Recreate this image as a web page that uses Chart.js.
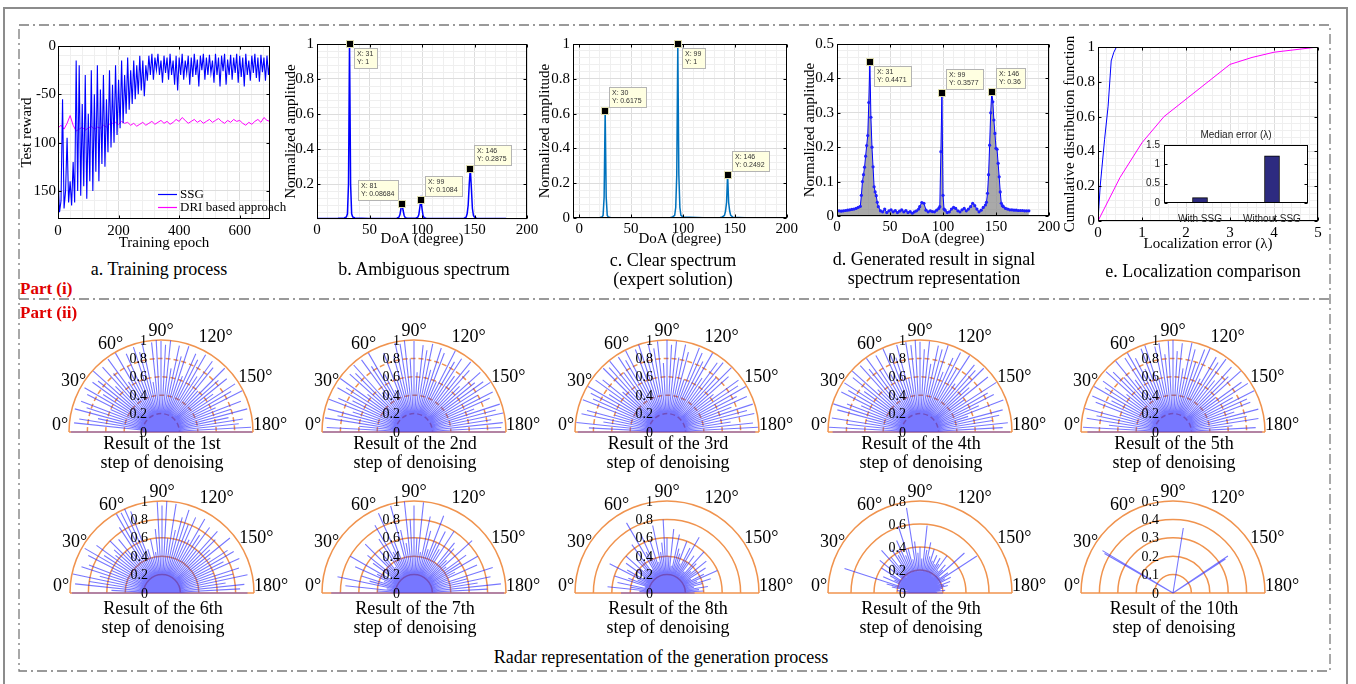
<!DOCTYPE html>
<html><head><meta charset="utf-8">
<script src="https://cdn.jsdelivr.net/npm/chart.js@4.4.1/dist/chart.umd.min.js"></script>
<style>
body{margin:0;background:#fff;}
#wrap{position:relative;width:1356px;height:684px;overflow:hidden;background:#fff;font-family:"Liberation Serif","Times New Roman",serif;}
canvas{position:absolute;}
.cap{position:absolute;font-size:18px;line-height:19px;text-align:center;white-space:nowrap;color:#000;transform:translate(-50%,-50%);z-index:5;}
.part{position:absolute;color:#e00000;font-weight:bold;font-size:17px;line-height:18px;left:20px;z-index:5;}
.ins{position:absolute;font-family:"Liberation Sans",Arial,sans-serif;font-size:10px;color:#222;transform:translate(-50%,-50%);white-space:nowrap;z-index:5;}
</style></head>
<body><div id="wrap">
<svg width="1356" height="684" style="position:absolute;left:0;top:0">
 <path d="M4 684 V8 H1347 V684" fill="none" stroke="#8c8c8c" stroke-width="2"/>
 <rect x="19" y="25" width="1311" height="646" fill="none" stroke="#7a7a7a" stroke-width="1.3" stroke-dasharray="10,4,2,4"/>
 <line x1="19" y1="299" x2="1330" y2="299" stroke="#7a7a7a" stroke-width="1.3" stroke-dasharray="10,4,2,4"/>
</svg>
<div class="cap" style="left:159px;top:269px">a. Training process</div>
<div class="cap" style="left:424px;top:269px">b. Ambiguous spectrum</div>
<div class="cap" style="left:673px;top:270px">c. Clear spectrum<br>(expert solution)</div>
<div class="cap" style="left:934px;top:269px">d. Generated result in signal<br>spectrum representation</div>
<div class="cap" style="left:1203px;top:271px">e. Localization comparison</div>
<div class="part" style="top:280px">Part (i)</div>
<div class="part" style="top:304px">Part (ii)</div>
<div class="ins" style="left:1236px;top:134px">Median error (λ)</div>
<div class="cap" style="left:661px;top:657px">Radar representation of the generation process</div>
</div>
<script>
// ---------------- DATA ----------------
// a. Training process
const aEpochSSG = [0,5,10,15,20,25,30,35,40,45,50,55,60,65,70,75,80,85,90,95,100,105,110,115,120,125,130,135,140,145,150,155,160,165,170,175,180,185,190,195,200,205,210,215,220,225,230,235,240,245,250,255,260,265,270,275,280,285,290,295,300,305,310,315,320,325,330,335,340,345,350,355,360,365,370,375,380,385,390,395,400,405,410,415,420,425,430,435,440,445,450,455,460,465,470,475,480,485,490,495,500,505,510,515,520,525,530,535,540,545,550,555,560,565,570,575,580,585,590,595,600,605,610,615,620,625,630,635,640,645,650,655,660,665,670,675,680,685,690,695,700];
const aSSG = [-135,-172,-160,-55,-168,-150,-95,-162,-140,-165,
 -120,-162,-15,-150,-20,-155,-60,-145,-30,-158,
 -70,-140,-25,-150,-50,-130,-20,-140,-45,-122,
 -30,-125,-55,-110,-25,-105,-40,-100,-20,-92,
 -35,-85,-15,-80,-30,-70,-12,-66,-25,-60,
 -15,-55,-20,-50,-10,-46,-15,-52,-20,-36,
 -10,-30,-8,-35,-12,-25,-8,-30,-15,-38,
 -10,-28,-12,-35,-8,-30,-15,-40,-10,-46,
 -12,-30,-8,-35,-15,-28,-10,-40,-12,-32,
 -8,-30,-14,-42,-10,-25,-8,-35,-12,-30,
 -9,-28,-15,-38,-8,-30,-12,-42,-10,-26,
 -8,-40,-14,-30,-9,-35,-12,-28,-8,-38,
 -10,-32,-12,-42,-8,-30,-15,-36,-10,-28,
 -8,-33,-12,-37,-9,-27,-12,-36,-10,-30,
 -14];
const aEpochDRI = [0,10,20,30,40,50,60,70,80,90,100,110,120,130,140,150,160,170,180,190,200,210,220,230,240,250,260,270,280,290,300,310,320,330,340,350,360,370,380,390,400,410,420,430,440,450,460,470,480,490,500,510,520,530,540,550,560,570,580,590,600,610,620,630,640,650,660,670,680,690,700];
const aDRI = [-85,-82,-86,-80,-72,-82,-88,-86,-84,-87,
 -85,-83,-86,-84,-85,-82,-84,-81,-80,-79,
 -81,-78,-80,-79,-82,-80,-83,-81,-79,-82,
 -80,-78,-81,-79,-77,-80,-78,-81,-79,-76,
 -78,-74,-77,-80,-78,-76,-79,-77,-80,-78,
 -76,-79,-77,-75,-78,-80,-77,-79,-76,-78,
 -77,-80,-82,-79,-81,-78,-76,-79,-74,-77,
 -78];
const aSeriesNames = ['SSG','DRI based approach'];
const aXTicks = [0,200,400,600], aXTickLabels = ['0','200','400','600'];
const aYTicks = [-150,-100,-50,0], aYTickLabels = ['150','100','-50','0'];

// b. Ambiguous spectrum
const bX = [0,10,20,26,28,29,30,31,32,33,34,36,50,70,76,78,79,80,81,82,83,84,86,94,96,97,98,99,100,101,102,104,120,140,142,143,144,145,146,147,148,149,150,152,160,180];
const bY = [0.003,0.003,0.004,0.006,0.012,0.03,0.2,1,0.2,0.03,0.012,0.006,0.003,0.003,0.005,0.01,0.025,0.06,0.08684,0.05,0.02,0.008,0.004,0.005,0.01,0.025,0.07,0.1084,0.06,0.02,0.008,0.004,0.003,0.005,0.01,0.03,0.08,0.2,0.2875,0.18,0.06,0.02,0.01,0.005,0.003,0.003];
const bTipX = [31,81,99,146], bTipY = [1,0.08684,0.1084,0.2875];
const bXTicks = [0,50,100,150,200], bXTickLabels = ['0','50','100','150','200'];
const bYTicks = [0.2,0.4,0.6,0.8,1], bYTickLabels = ['0.2','0.4','0.6','0.8','1'];

// c. Clear spectrum
const cX = [-6,10,20,22,23,24,25,26,27,28,30,50,70,88,90,92,93,94,95,96,97,98,100,120,136,138,140,141,142,143,144,145,146,148,160,173];
const cY = [0.002,0.002,0.003,0.006,0.015,0.12,0.6175,0.12,0.015,0.006,0.003,0.002,0.002,0.003,0.006,0.015,0.06,0.25,1,0.25,0.06,0.015,0.006,0.002,0.003,0.006,0.015,0.04,0.09,0.2492,0.09,0.04,0.015,0.005,0.002,0.002];
const cTipX = [30,99,146], cTipY = [0.6175,1,0.2492];
const cXTicks = [0,50,100,150,200], cXTickLabels = ['0','50','100','150','200'];
const cYTicks = [0,0.2,0.4,0.6,0.8,1], cYTickLabels = ['0','0.2','0.4','0.6','0.8','1'];

// d. Generated result
const dX = [0,2,4,6,8,10,12,14,16,18, 20,22,23,24,25,26,27,28,29,30, 31,32,33,34,35,36,37,38,39,41, 43,45,47,49,51,53,55,57,59,61, 63,65,67,69,71,73,75,77,78,80, 82,84,86,88,90,92,94,96,97,98, 99,100,101,102,104,106,108,110,112,114, 116,118,120,122,124,126,128,130,132,134, 136,138,140,141,142,143,144,145,146,147, 148,149,150,151,152,153,154,155,156,157, 159,161,163,165,167,169,171,173,175,177, 179,181];
const dY = [0.015,0.015,0.014,0.015,0.016,0.017,0.018,0.019,0.02,0.022,
 0.025,0.028,0.06,0.1,0.12,0.142,0.174,0.205,0.234,0.33,
 0.4471,0.287,0.2,0.143,0.085,0.07,0.059,0.04,0.027,0.015,
 0.012,0.02,0.01,0.015,0.018,0.012,0.016,0.01,0.014,0.018,
 0.012,0.016,0.01,0.013,0.008,0.012,0.015,0.02,0.027,0.039,
 0.037,0.017,0.012,0.015,0.013,0.012,0.017,0.022,0.027,0.187,
 0.3577,0.06,0.02,0.017,0.01,0.012,0.02,0.025,0.022,0.015,
 0.012,0.018,0.022,0.015,0.02,0.027,0.037,0.03,0.02,0.012,
 0.017,0.025,0.032,0.04,0.066,0.12,0.206,0.3,0.36,0.332,
 0.279,0.24,0.197,0.194,0.153,0.114,0.07,0.037,0.03,0.027,
 0.022,0.02,0.018,0.018,0.017,0.017,0.016,0.016,0.016,0.015,
 0.015,0.015];
const dTipX = [31,99,146], dTipY = [0.4471,0.3577,0.36];
const dXTicks = [0,50,100,150,200], dXTickLabels = ['0','50','100','150','200'];
const dYTicks = [0,0.1,0.2,0.3,0.4,0.5], dYTickLabels = ['0','0.1','0.2','0.3','0.4','0.5'];

// e. Localization comparison
const eSSGX = [0,0.05,0.15,0.23,0.3,0.36,0.42,5];
const eSSGY = [0,0.2,0.47,0.66,0.92,0.97,1,1];
const eNoX = [0,0.5,1,1.5,2,3,3.5,4,5];
const eNoY = [0,0.25,0.45,0.6,0.7,0.9,0.94,0.97,1];
const eXTicks = [0,1,2,3,4,5], eXTickLabels = ['0','1','2','3','4','5'];
const eYTicks = [0,0.2,0.4,0.6,0.8,1], eYTickLabels = ['0','0.2','0.4','0.6','0.8','1'];
const medianCats = ['With SSG','Without SSG'];
const medianVals = [0.14,1.22];
const medYTicks = [0,0.5,1,1.5], medYTickLabels = ['0','0.5','1','1.5'];

// Part (ii) radar data: ray angle (deg) and normalized length
const polarAngles = [0,3,6,9,12,15,18,21,24,27,30,33,36,39,42,45,48,51,54,57,60,63,66,69,72,75,78,81,84,87,90,93,96,99,102,105,108,111,114,117,120,123,126,129,132,135,138,141,144,147,150,153,156,159,162,165,168,171,174,177,180];
const rays1 = [0.98,0.2,0.95,0.9,0.7,0.97,0.85,0.93,0.6,0.9,
 0.96,0.75,0.92,0.88,0.99,0.7,0.95,0.82,0.98,0.65,
 0.99,0.8,0.93,0.6,0.97,0.9,0.99,0.55,0.98,1.0,
 0.99,0.95,1.0,0.7,0.96,0.85,0.98,0.65,0.93,0.88,
 0.97,0.72,0.95,0.9,0.6,0.98,0.84,0.92,0.7,0.96,
 0.88,0.99,0.65,0.93,0.8,0.97,0.75,0.9,0.85,0.98,
 0.99];
const rays2 = [0.99,0.95,0.6,0.98,0.85,0.97,0.7,0.99,0.9,0.75,
 0.96,0.88,0.99,0.65,0.94,0.9,0.98,0.55,0.97,0.85,
 0.99,0.7,0.5,0.92,0.6,0.85,0.99,0.97,1.0,0.8,
 0.99,0.65,0.95,0.9,0.98,0.7,0.96,0.92,0.6,0.99,
 0.88,0.95,0.75,0.98,0.9,0.7,0.97,0.85,0.93,0.99,
 0.8,0.96,0.9,0.7,0.98,0.92,0.99,0.85,0.97,0.95,
 0.99];
const rays3 = [0.97,0.85,0.99,0.7,0.95,0.9,0.6,0.98,0.88,0.93,
 0.99,0.75,0.96,0.9,0.65,0.98,0.94,0.99,0.8,0.97,
 0.9,0.99,0.7,0.96,1.0,0.85,0.98,0.92,0.99,0.75,
 1.0,0.95,0.99,0.82,0.97,0.9,0.6,0.98,0.94,0.86,
 0.99,0.7,0.93,0.97,0.8,0.99,0.9,0.65,0.96,0.92,
 0.99,0.85,0.95,0.75,0.98,0.9,0.97,0.7,0.94,0.99,
 0.96];
const rays4 = [0.95,0.99,0.8,0.97,0.6,0.93,0.99,0.85,0.7,0.96,
 0.9,0.98,0.75,0.94,0.99,0.65,0.97,0.88,0.99,0.8,
 0.96,0.7,0.99,0.92,0.85,0.98,0.6,0.99,0.95,1.0,
 0.98,0.9,0.99,0.75,0.96,0.93,0.99,0.7,0.88,0.97,
 0.8,0.99,0.65,0.94,0.9,0.98,0.72,0.95,0.6,0.99,
 0.85,0.9,0.7,0.97,0.55,0.93,0.88,0.8,0.96,0.9,
 0.98];
const rays5 = [0.93,0.98,0.7,0.95,0.85,0.99,0.6,0.9,0.96,0.75,
 0.99,0.88,0.94,0.65,0.98,0.92,0.8,0.99,0.7,0.96,
 0.99,0.9,0.75,0.97,0.99,0.6,0.95,0.98,0.85,0.99,
 1.0,0.88,0.97,0.7,0.99,0.93,0.8,0.96,0.99,0.65,
 0.94,0.9,0.98,0.72,0.95,0.85,0.99,0.6,0.92,0.97,
 0.75,0.99,0.88,0.9,0.7,0.96,0.82,0.94,0.65,0.9,
 0.97];
const rays6 = [0.98,0.55,0.95,0.8,0.99,0.7,0.92,0.85,0.6,0.9,
 0.97,0.75,0.88,0.65,0.7,0.8,0.6,0.75,0.55,0.85,
 0.99,0.98,1.0,0.95,0.5,0.4,0.6,0.45,0.7,0.99,
 0.95,1.0,0.6,0.98,0.7,0.85,0.95,0.8,0.9,0.65,
 0.93,0.75,0.88,0.6,0.9,0.82,0.7,0.95,0.65,0.85,
 0.9,0.75,0.92,0.6,0.88,0.8,0.95,0.7,0.9,0.85,
 0.93];
const rays7 = [0.9,0.4,0.75,0.3,0.85,0.5,0.6,0.35,0.7,0.45,
 0.8,0.3,0.55,0.65,0.4,0.75,0.5,0.6,0.35,0.7,
 0.85,0.5,0.95,0.6,0.4,0.98,0.7,0.55,1.0,0.8,
 0.95,0.6,0.99,0.45,0.85,0.7,0.5,0.9,0.6,0.75,
 0.55,0.8,0.4,0.7,0.65,0.5,0.85,0.45,0.7,0.6,
 0.8,0.5,0.75,0.4,0.9,0.6,0.85,0.7,0.95,0.8,
 0.98];
const rays8 = [0.5,0.3,0.65,0.4,0.55,0.25,0.6,0.45,0.35,0.7,
 0.5,0.3,0.55,0.4,0.6,0.35,0.5,0.45,0.65,0.3,
 0.88,0.5,0.7,0.4,0.6,0.35,0.75,0.45,0.55,0.8,
 0.6,0.4,0.7,0.3,0.65,0.5,0.45,0.6,0.35,0.55,
 0.7,0.4,0.5,0.3,0.6,0.45,0.35,0.55,0.4,0.5,
 0.3,0.45,0.6,0.35,0.5,0.4,0.3,0.45,0.35,0.4,
 0.3];
const rays9 = [0.15,0.1,0.2,0.12,0.25,0.3,0.69,0.2,0.35,0.25,
 0.3,0.4,0.2,0.45,0.3,0.35,0.5,0.4,0.3,0.45,
 0.38,0.42,0.5,0.35,0.61,0.4,0.3,0.75,0.45,0.35,
 0.4,0.3,0.59,0.38,0.45,0.33,0.4,0.3,0.36,0.28,
 0.35,0.3,0.4,0.25,0.33,0.28,0.52,0.22,0.3,0.59,
 0.25,0.3,0.2,0.28,0.22,0.25,0.2,0.18,0.22,0.15,
 0.2];
const rays10Angles = [30,31,99,146,147];
const rays10Radii = [0.43,0.4471,0.3577,0.36,0.34];
const polarAngleTicks = [0,30,60,90,120,150,180];
const polarTicks1 = [0,0.2,0.4,0.6,0.8,1];
const polarTicks9 = [0,0.2,0.4,0.6,0.8];
const polarTicks10 = [0,0.1,0.2,0.3,0.4,0.5];
const stepNames = ['1st','2nd','3rd','4th','5th','6th','7th','8th','9th','10th'];

// ---------------- RENDER ----------------
const SERIF = '"Liberation Serif","Times New Roman",serif';
const SANS = '"Liberation Sans",Arial,sans-serif';
Chart.defaults.animation = false;
Chart.defaults.font.family = SERIF;
Chart.defaults.color = '#000';
Chart.defaults.plugins.legend.display = false;
Chart.defaults.plugins.tooltip.enabled = false;
const wrap = document.getElementById('wrap');

function mkCanvas(x,y,w,h){
  const c=document.createElement('canvas'); c.width=w; c.height=h;
  c.style.left=x+'px'; c.style.top=y+'px'; wrap.appendChild(c); return c;
}
function pts(xs,ys){ return xs.map((x,i)=>({x, y:ys[i]})); }

function linAxis(o){
  const idx = v => o.ticks.findIndex(t => Math.abs(t-v) < 1e-9);
  return {
    type:'linear', position:o.pos, min:o.min, max:o.max, bounds:'data',
    afterBuildTicks(s){
      const vals = new Set(o.ticks.map(v=>+v.toFixed(6)));
      if (o.minor){
        const start = Math.ceil(o.min/o.minor - 1e-9)*o.minor;
        for(let k=0;;k++){ const v=+(start+k*o.minor).toFixed(6); if(v>o.max+1e-9) break; vals.add(v===0?0:v); }
      }
      s.ticks = [...vals].filter(v=>v>=o.min-1e-9 && v<=o.max+1e-9).sort((a,b)=>a-b).map(v=>({value:v}));
      s.$maj = o.ticks.slice();
    },
    afterFit(s){ if(o.pos==='left') s.width=o.fit; else s.height=o.fit; },
    ticks:{autoSkip:false, maxRotation:0, minRotation:0, padding:o.pad, color:o.color||'#000',
      font:o.font||{size:15}, callback:(v)=>{ const i=idx(v); return i>=0 ? o.labels[i] : ''; }},
    grid:{display:o.grid!==false, drawTicks:false, lineWidth:1,
      color:c => (c.tick && idx(c.tick.value)>=0) ? '#dddddd' : '#efefef'},
    border:{display:false},
    title:{display:!!o.title, text:o.title, color:'#000', font:{size:15}, padding:o.titlePad||0}
  };
}

const boxPlugin = {id:'box', afterDatasetsDraw(ch){
  const {ctx, chartArea:a} = ch;
  const L=Math.round(a.left)+0.5, T=Math.round(a.top)+0.5, R=Math.round(a.right)-0.5, B=Math.round(a.bottom)-0.5;
  ctx.save(); ctx.strokeStyle='#000'; ctx.lineWidth=1;
  ctx.strokeRect(L,T,R-L,B-T);
  ctx.beginPath();
  const xs=ch.scales.x, ys=ch.scales.y, tl=3;
  (xs.$maj||[]).forEach(v=>{ const p=Math.round(xs.getPixelForValue(v))+0.5; ctx.moveTo(p,B); ctx.lineTo(p,B-tl); ctx.moveTo(p,T); ctx.lineTo(p,T+tl); });
  (ys.$maj||[]).forEach(v=>{ const p=Math.round(ys.getPixelForValue(v))+0.5; ctx.moveTo(L,p); ctx.lineTo(L+tl,p); ctx.moveTo(R,p); ctx.lineTo(R-tl,p); });
  ctx.stroke(); ctx.restore();
}};

const tipPlugin = {id:'tips', afterDatasetsDraw(ch,args,o){
  const ctx=ch.ctx, xs=ch.scales.x, ys=ch.scales.y, data=ch.data.datasets[0].data;
  ctx.save();
  o.xs.forEach((tx,i)=>{
    let best=null; data.forEach(p=>{ if(Math.abs(p.x-tx)<=6 && (!best || p.y>best.y)) best=p; });
    const mx=Math.round(xs.getPixelForValue(best.x)), my=Math.round(ys.getPixelForValue(best.y));
    const l1='X: '+tx, l2='Y: '+o.ys[i];
    ctx.font='7px '+SANS;
    const w=Math.round(Math.max(ctx.measureText(l1).width, ctx.measureText(l2).width)+7), h=20;
    const d=o.dirs[i];
    const bx = d==='ul' ? mx-4-w : mx+4;
    const by = d==='dr' ? my+4 : my-4-h;
    ctx.fillStyle='#ffffe1'; ctx.fillRect(bx,by,w,h);
    ctx.strokeStyle='#b4b4b4'; ctx.lineWidth=1; ctx.strokeRect(bx+0.5,by+0.5,w,h);
    ctx.fillStyle='#333'; ctx.textBaseline='top'; ctx.textAlign='left';
    ctx.fillText(l1,bx+3,by+2.5); ctx.fillText(l2,bx+3,by+11);
    ctx.fillStyle='#000'; ctx.fillRect(mx-3,my-3,6,6);
    ctx.strokeStyle='#deddb0'; ctx.strokeRect(mx-3.5,my-3.5,7,7);
  });
  ctx.restore();
}};

const legendA = {id:'legA', afterDatasetsDraw(ch){
  const {ctx, chartArea:a} = ch;
  ctx.save(); ctx.font='13px '+SERIF; ctx.textBaseline='middle'; ctx.textAlign='left';
  ch.data.datasets.forEach((d,i)=>{
    const y = a.bottom - 25 + i*13;
    ctx.strokeStyle=d.borderColor; ctx.lineWidth=1.2;
    ctx.beginPath(); ctx.moveTo(a.right-112,y+0.5); ctx.lineTo(a.right-93,y+0.5); ctx.stroke();
    ctx.fillStyle='#000'; ctx.fillText(d.label, a.right-90, y+1);
  });
  ctx.restore();
}};

function topChart(rect, datasets, xAx, yAx, plugins, extra){
  const [x0,y0,x1,y1,pt,pr] = rect;
  const c = mkCanvas(x0,y0,x1-x0,y1-y0);
  return new Chart(c,{type:'line', data:{datasets},
    options:{responsive:false, layout:{padding:{left:0,top:pt,right:pr,bottom:0}},
      scales:{x:xAx, y:yAx}, elements:{line:{tension:0}}, plugins:extra||{}},
    plugins});
}

// a
topChart([14,34,290,256,12,20], [
  {label:aSeriesNames[0], data:pts(aEpochSSG,aSSG), borderColor:'#0000ff', borderWidth:1.1, pointRadius:0},
  {label:aSeriesNames[1], data:pts(aEpochDRI,aDRI), borderColor:'#ff00ff', borderWidth:1, pointRadius:0}
], linAxis({pos:'bottom',min:0,max:700,ticks:aXTicks,labels:aXTickLabels,minor:40,fit:37,pad:3,title:'Training epoch',titlePad:{bottom:4}}),
   linAxis({pos:'left',min:-179,max:0,ticks:aYTicks,labels:aYTickLabels,minor:10,fit:44,pad:2,title:'Test reward',titlePad:{top:4}}),
   [boxPlugin, legendA]);

// b
topChart([280,32,545,256,12,18], [
  {data:pts(bX,bY), borderColor:'#0000ff', borderWidth:1.5, pointRadius:0}
], linAxis({pos:'bottom',min:0,max:200,ticks:bXTicks,labels:bXTickLabels,minor:10,fit:37,pad:2,title:'DoA (degree)',titlePad:{bottom:8}}),
   linAxis({pos:'left',min:0,max:1,ticks:bYTicks,labels:bYTickLabels,minor:0.04,fit:37,pad:3,title:'Normalized amplitude',titlePad:{top:2}}),
   [boxPlugin, tipPlugin], {tips:{xs:bTipX, ys:bTipY, dirs:['dr','ul','ur','ur']}});

// c
topChart([534,32,800,256,12,13], [
  {data:pts(cX,cY), borderColor:'#0072BD', borderWidth:1.5, pointRadius:0}
], linAxis({pos:'bottom',min:-6,max:200,ticks:cXTicks,labels:cXTickLabels,minor:10,fit:38,pad:2,title:'DoA (degree)',titlePad:{bottom:8}}),
   linAxis({pos:'left',min:0,max:1,ticks:cYTicks,labels:cYTickLabels,minor:0.04,fit:39,pad:3,title:'Normalized amplitude',titlePad:{top:2}}),
   [boxPlugin, tipPlugin], {tips:{xs:cTipX, ys:cTipY, dirs:['ur','dr','ur']}});

// d
topChart([799,32,1065,256,12,16], [
  {data:pts(dX,dY), borderColor:'#0000ff', borderWidth:1, pointRadius:1.6, pointBackgroundColor:'#2020ff', pointBorderWidth:0,
   fill:'origin', backgroundColor:'rgba(140,140,140,0.75)'}
], linAxis({pos:'bottom',min:0,max:200,ticks:dXTicks,labels:dXTickLabels,minor:10,fit:40,pad:2,title:'DoA (degree)',titlePad:{bottom:8}}),
   linAxis({pos:'left',min:0,max:0.5,ticks:dYTicks,labels:dYTickLabels,minor:0.02,fit:38,pad:3,title:'Normalized amplitude',titlePad:{top:2}}),
   [boxPlugin, tipPlugin], {tips:{xs:dTipX, ys:dTipY, dirs:['dr','ur','ur']}});

// e
topChart([1059,35,1334,256,12,16], [
  {data:pts(eSSGX,eSSGY), borderColor:'#0000ff', borderWidth:1, pointRadius:0},
  {data:pts(eNoX,eNoY), borderColor:'#ff00ff', borderWidth:1, pointRadius:0}
], linAxis({pos:'bottom',min:0,max:5,ticks:eXTicks,labels:eXTickLabels,minor:0.2,fit:35,pad:3,title:'Localization error (λ)',titlePad:{bottom:3}}),
   linAxis({pos:'left',min:0,max:1,ticks:eYTicks,labels:eYTickLabels,minor:0.04,fit:39,pad:3,title:'Cumulative distribution function',titlePad:{top:2}}),
   [boxPlugin]);

// e inset (median error bars)
(function(){
  const c = mkCanvas(1136,135,180,87);
  const whiteBg = {id:'wbg', beforeDatasetsDraw(ch){ const a=ch.chartArea; ch.ctx.save(); ch.ctx.fillStyle='#fff'; ch.ctx.fillRect(a.left,a.top,a.right-a.left,a.bottom-a.top); ch.ctx.restore(); }};
  const yAx = linAxis({pos:'left',min:0,max:1.5,ticks:medYTicks,labels:medYTickLabels,fit:28,pad:4,grid:false,color:'#222',font:{family:SANS,size:10}});
  new Chart(c,{type:'bar', data:{labels:medianCats, datasets:[{data:medianVals, backgroundColor:'#2d2b80', borderColor:'#000', borderWidth:1, barThickness:15}]},
    options:{responsive:false, layout:{padding:{left:0,top:8,right:8,bottom:0}},
      scales:{x:{type:'category', grid:{display:false}, border:{display:false}, afterFit(s){s.height=19;},
        ticks:{color:'#222', padding:2, font:{family:SANS,size:10}, maxRotation:0, autoSkip:false}}, y:yAx}},
    plugins:[whiteBg, boxPlugin]});
})();

// Part (ii) radar plots
const polarPlugin = {
  id:'polar',
  beforeDatasetsDraw(ch,args,o){
    const ctx=ch.ctx, xs=ch.scales.x, ys=ch.scales.y;
    const cx=xs.getPixelForValue(0), cy=ys.getPixelForValue(0);
    const rp=v=>xs.getPixelForValue(v)-cx, R=rp(o.maxV);
    ctx.save();
    ctx.strokeStyle='#f0934e'; ctx.lineWidth=1.5;
    o.rings.forEach(v=>{ ctx.setLineDash(o.dashed && v<o.maxV-1e-9 ? [5,3] : []); ctx.beginPath(); ctx.arc(cx,cy,rp(v),Math.PI,2*Math.PI); ctx.stroke(); });
    ctx.setLineDash([]);
    ctx.beginPath(); ctx.moveTo(cx-R,cy); ctx.lineTo(cx+R,cy); ctx.stroke();
    ctx.fillStyle='#000'; ctx.font='18px '+SERIF; ctx.textAlign='center'; ctx.textBaseline='middle';
    o.angLabels.forEach(a=>{ const t=a*Math.PI/180, rl=R+(a>90?17:9);
      ctx.fillText(a+'°', cx-rl*Math.cos(t), cy-rl*Math.sin(t)-((a===0||a===180)?7:0)); });
    ctx.restore();
  },
  afterDatasetsDraw(ch,args,o){
    const ctx=ch.ctx, xs=ch.scales.x, ys=ch.scales.y;
    const cx=xs.getPixelForValue(0), cy=ys.getPixelForValue(0);
    ctx.save(); ctx.fillStyle='#000'; ctx.font='14px '+SERIF; ctx.textAlign='right'; ctx.textBaseline='middle';
    o.ticks.forEach(v=>{ ctx.fillText(String(v), cx-14, cy-(xs.getPixelForValue(v)-cx)+1); });
    ctx.restore();
  }
};
function polar(cx, base, angles, radii, maxV, rings, ticks, dashed, name, capOff){
  const c = mkCanvas(cx-130, base-120, 260, 130);
  const data=[];
  angles.forEach((a,i)=>{ const t=a*Math.PI/180; data.push({x:0,y:0},{x:-radii[i]*Math.cos(t), y:radii[i]*Math.sin(t)},{x:NaN,y:NaN}); });
  new Chart(c,{type:'scatter', data:{datasets:[{data, showLine:true, spanGaps:false, pointRadius:0, borderColor:'rgba(35,35,255,0.62)', borderWidth:1.1, clip:false}]},
    options:{responsive:false, layout:{padding:{left:38,right:38,top:28,bottom:10}},
      scales:{x:{type:'linear',min:-maxV,max:maxV,display:false}, y:{type:'linear',min:0,max:maxV,display:false}},
      plugins:{polar:{maxV, rings, ticks, dashed, angLabels:polarAngleTicks}}},
    plugins:[polarPlugin]});
  const d=document.createElement('div'); d.className='cap'; d.style.left=(cx+1)+'px'; d.style.top=(base+capOff)+'px';
  d.innerHTML='Result of the '+name+'<br>step of denoising'; wrap.appendChild(d);
}
const ringsA=[0.2,0.4,0.6,0.8,1], rings9=[0.2,0.4,0.6,0.8], rings10=[0.1,0.2,0.3,0.4,0.5];
const row1=[161,414,667,920,1173], row2=[162,414,667,920,1173];
const raySets=[rays1,rays2,rays3,rays4,rays5,rays6,rays7,rays8];
for(let i=0;i<5;i++) polar(row1[i],432,polarAngles,raySets[i],1,ringsA,polarTicks1,true,stepNames[i],20.5);
for(let i=5;i<8;i++) polar(row2[i-5],593,polarAngles,raySets[i],1,ringsA,polarTicks1,false,stepNames[i],24.5);
polar(row2[3],593,polarAngles,rays9,0.8,rings9,polarTicks9,false,stepNames[8],24.5);
polar(row2[4],593,rays10Angles,rays10Radii,0.5,rings10,polarTicks10,false,stepNames[9],24.5);
</script>
</body></html>
